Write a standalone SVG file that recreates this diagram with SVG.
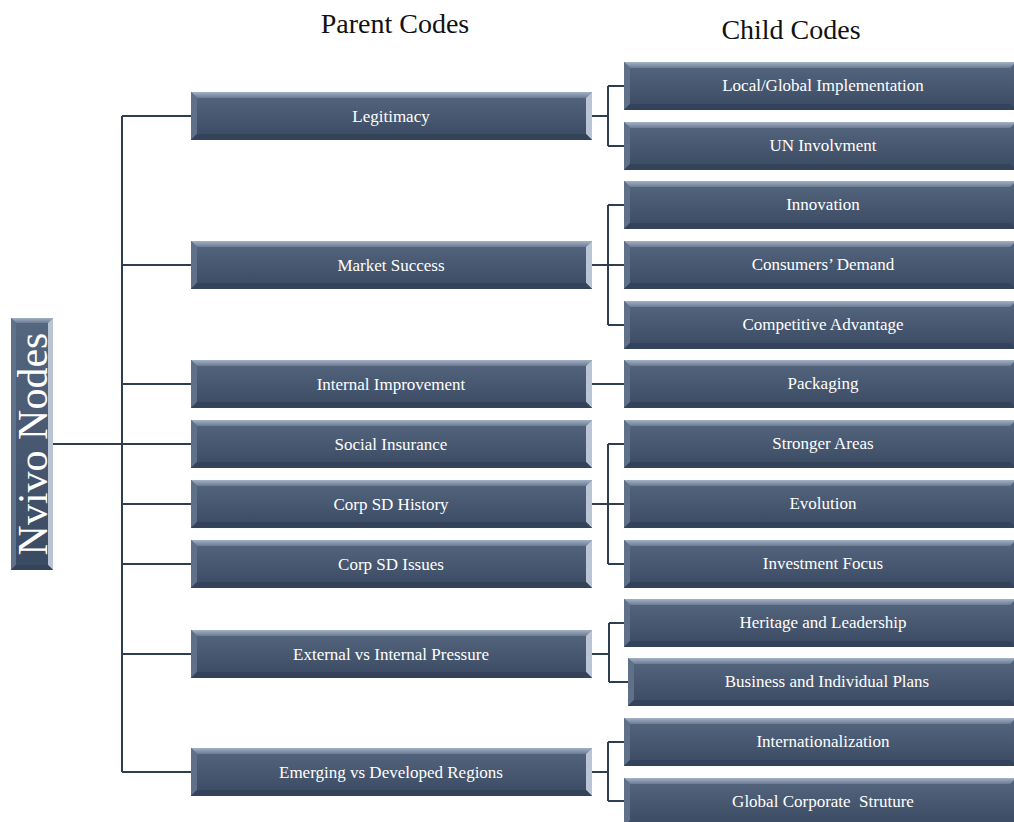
<svg xmlns="http://www.w3.org/2000/svg" width="1014" height="822" viewBox="0 0 1014 822">
<defs>
<linearGradient id="face" x1="0" y1="0" x2="0" y2="1">
<stop offset="0" stop-color="#55667f"/>
<stop offset="1" stop-color="#3a4a62"/>
</linearGradient>
<linearGradient id="top" x1="0" y1="0" x2="0" y2="1">
<stop offset="0" stop-color="#a3b1c3"/>
<stop offset="1" stop-color="#6b7b93"/>
</linearGradient>
</defs>
<style>
.face{fill:url(#face)}
.bt{fill:url(#top)}
.bl{fill:#5f7089}
.br{fill:#b9c5d4}
.bb{fill:#34425a}
.lbl{font-family:"Liberation Serif","Times New Roman",serif;font-size:17px;fill:#ffffff;text-anchor:middle}
.title{font-family:"Liberation Serif","Times New Roman",serif;font-size:28px;fill:#111111;text-anchor:middle}
.conn{stroke:#2f3d52;stroke-width:2;fill:none}
</style>
<rect width="1014" height="822" fill="#ffffff"/>
<text class="title" x="395" y="33">Parent Codes</text>
<text class="title" x="791" y="39">Child Codes</text>

<g id="connectors">
<path class="conn" d="M53,444H122M122,116V772M122,116H191M122,265H191M122,384H191M122,444H191M122,504H191M122,564H191M122,654H191M122,772H191"/>
<path class="conn" d="M592,116H608M608,86V146M608,86H624M608,146H624"/>
<path class="conn" d="M592,265H608M608,205V325M608,205H624M608,265H624M608,325H624"/>
<path class="conn" d="M592,384H624"/>
<path class="conn" d="M592,504H608M608,444V564M608,444H624M608,504H624M608,564H624"/>
<path class="conn" d="M592,654H609M609,623V682M609,623H624M609,682H628"/>
<path class="conn" d="M592,772H608M608,742V801M608,742H624M608,801H624"/>
</g>

<g id="nvivo">
<rect class="face" x="11" y="318" width="42" height="252"/>
<polygon class="bt" points="11,318 53,318 48,323 16,323"/>
<polygon class="bl" points="11,318 16,323 16,565 11,570"/>
<polygon class="br" points="53,318 53,570 48,565 48,323"/>
<polygon class="bb" points="11,570 53,570 48,565 16,565"/>
<text x="47" y="444" transform="rotate(-90 47 444)" style="font-family:'Liberation Serif','Times New Roman',serif;font-size:42px;fill:#ffffff;text-anchor:middle">Nvivo Nodes</text>
</g>

<g id="p-legitimacy">
<rect class="face" x="191" y="92" width="401" height="48"/>
<polygon class="bt" points="191,92 592,92 586,98 197,98"/>
<polygon class="bl" points="191,92 197,98 197,134 191,140"/>
<polygon class="br" points="592,92 592,140 586,134 586,98"/>
<polygon class="bb" points="191,140 592,140 586,134 197,134"/>
<text class="lbl" x="391" y="122">Legitimacy</text>
</g>
<g id="p-market">
<rect class="face" x="191" y="241" width="401" height="48"/>
<polygon class="bt" points="191,241 592,241 586,247 197,247"/>
<polygon class="bl" points="191,241 197,247 197,283 191,289"/>
<polygon class="br" points="592,241 592,289 586,283 586,247"/>
<polygon class="bb" points="191,289 592,289 586,283 197,283"/>
<text class="lbl" x="391" y="271">Market Success</text>
</g>
<g id="p-internal">
<rect class="face" x="191" y="360" width="401" height="48"/>
<polygon class="bt" points="191,360 592,360 586,366 197,366"/>
<polygon class="bl" points="191,360 197,366 197,402 191,408"/>
<polygon class="br" points="592,360 592,408 586,402 586,366"/>
<polygon class="bb" points="191,408 592,408 586,402 197,402"/>
<text class="lbl" x="391" y="390">Internal Improvement</text>
</g>
<g id="p-social">
<rect class="face" x="191" y="420" width="401" height="48"/>
<polygon class="bt" points="191,420 592,420 586,426 197,426"/>
<polygon class="bl" points="191,420 197,426 197,462 191,468"/>
<polygon class="br" points="592,420 592,468 586,462 586,426"/>
<polygon class="bb" points="191,468 592,468 586,462 197,462"/>
<text class="lbl" x="391" y="450">Social Insurance</text>
</g>
<g id="p-history">
<rect class="face" x="191" y="480" width="401" height="48"/>
<polygon class="bt" points="191,480 592,480 586,486 197,486"/>
<polygon class="bl" points="191,480 197,486 197,522 191,528"/>
<polygon class="br" points="592,480 592,528 586,522 586,486"/>
<polygon class="bb" points="191,528 592,528 586,522 197,522"/>
<text class="lbl" x="391" y="510">Corp SD History</text>
</g>
<g id="p-issues">
<rect class="face" x="191" y="540" width="401" height="48"/>
<polygon class="bt" points="191,540 592,540 586,546 197,546"/>
<polygon class="bl" points="191,540 197,546 197,582 191,588"/>
<polygon class="br" points="592,540 592,588 586,582 586,546"/>
<polygon class="bb" points="191,588 592,588 586,582 197,582"/>
<text class="lbl" x="391" y="570">Corp SD Issues</text>
</g>
<g id="p-external">
<rect class="face" x="191" y="630" width="401" height="48"/>
<polygon class="bt" points="191,630 592,630 586,636 197,636"/>
<polygon class="bl" points="191,630 197,636 197,672 191,678"/>
<polygon class="br" points="592,630 592,678 586,672 586,636"/>
<polygon class="bb" points="191,678 592,678 586,672 197,672"/>
<text class="lbl" x="391" y="660">External vs Internal Pressure</text>
</g>
<g id="p-emerging">
<rect class="face" x="191" y="748" width="401" height="48"/>
<polygon class="bt" points="191,748 592,748 586,754 197,754"/>
<polygon class="bl" points="191,748 197,754 197,790 191,796"/>
<polygon class="br" points="592,748 592,796 586,790 586,754"/>
<polygon class="bb" points="191,796 592,796 586,790 197,790"/>
<text class="lbl" x="391" y="778">Emerging vs Developed Regions</text>
</g>

<g id="c-local">
<rect class="face" x="624" y="62" width="392" height="48"/>
<polygon class="bt" points="624,62 1016,62 1010,68 630,68"/>
<polygon class="bl" points="624,62 630,68 630,104 624,110"/>
<polygon class="bb" points="624,110 1016,110 1010,104 630,104"/>
<text class="lbl" x="823" y="91">Local/Global Implementation</text>
</g>
<g id="c-un">
<rect class="face" x="624" y="122" width="392" height="48"/>
<polygon class="bt" points="624,122 1016,122 1010,128 630,128"/>
<polygon class="bl" points="624,122 630,128 630,164 624,170"/>
<polygon class="bb" points="624,170 1016,170 1010,164 630,164"/>
<text class="lbl" x="823" y="151">UN Involvment</text>
</g>
<g id="c-innovation">
<rect class="face" x="624" y="181" width="392" height="48"/>
<polygon class="bt" points="624,181 1016,181 1010,187 630,187"/>
<polygon class="bl" points="624,181 630,187 630,223 624,229"/>
<polygon class="bb" points="624,229 1016,229 1010,223 630,223"/>
<text class="lbl" x="823" y="210">Innovation</text>
</g>
<g id="c-demand">
<rect class="face" x="624" y="241" width="392" height="48"/>
<polygon class="bt" points="624,241 1016,241 1010,247 630,247"/>
<polygon class="bl" points="624,241 630,247 630,283 624,289"/>
<polygon class="bb" points="624,289 1016,289 1010,283 630,283"/>
<text class="lbl" x="823" y="270">Consumers’ Demand</text>
</g>
<g id="c-competitive">
<rect class="face" x="624" y="301" width="392" height="48"/>
<polygon class="bt" points="624,301 1016,301 1010,307 630,307"/>
<polygon class="bl" points="624,301 630,307 630,343 624,349"/>
<polygon class="bb" points="624,349 1016,349 1010,343 630,343"/>
<text class="lbl" x="823" y="330">Competitive Advantage</text>
</g>
<g id="c-packaging">
<rect class="face" x="624" y="360" width="392" height="48"/>
<polygon class="bt" points="624,360 1016,360 1010,366 630,366"/>
<polygon class="bl" points="624,360 630,366 630,402 624,408"/>
<polygon class="bb" points="624,408 1016,408 1010,402 630,402"/>
<text class="lbl" x="823" y="389">Packaging</text>
</g>
<g id="c-stronger">
<rect class="face" x="624" y="420" width="392" height="48"/>
<polygon class="bt" points="624,420 1016,420 1010,426 630,426"/>
<polygon class="bl" points="624,420 630,426 630,462 624,468"/>
<polygon class="bb" points="624,468 1016,468 1010,462 630,462"/>
<text class="lbl" x="823" y="449">Stronger Areas</text>
</g>
<g id="c-evolution">
<rect class="face" x="624" y="480" width="392" height="48"/>
<polygon class="bt" points="624,480 1016,480 1010,486 630,486"/>
<polygon class="bl" points="624,480 630,486 630,522 624,528"/>
<polygon class="bb" points="624,528 1016,528 1010,522 630,522"/>
<text class="lbl" x="823" y="509">Evolution</text>
</g>
<g id="c-investment">
<rect class="face" x="624" y="540" width="392" height="48"/>
<polygon class="bt" points="624,540 1016,540 1010,546 630,546"/>
<polygon class="bl" points="624,540 630,546 630,582 624,588"/>
<polygon class="bb" points="624,588 1016,588 1010,582 630,582"/>
<text class="lbl" x="823" y="569">Investment Focus</text>
</g>
<g id="c-heritage">
<rect class="face" x="624" y="599" width="392" height="48"/>
<polygon class="bt" points="624,599 1016,599 1010,605 630,605"/>
<polygon class="bl" points="624,599 630,605 630,641 624,647"/>
<polygon class="bb" points="624,647 1016,647 1010,641 630,641"/>
<text class="lbl" x="823" y="628">Heritage and Leadership</text>
</g>
<g id="c-business">
<rect class="face" x="628" y="658" width="388" height="48"/>
<polygon class="bt" points="628,658 1016,658 1010,664 634,664"/>
<polygon class="bl" points="628,658 634,664 634,700 628,706"/>
<polygon class="bb" points="628,706 1016,706 1010,700 634,700"/>
<text class="lbl" x="827" y="687">Business and Individual Plans</text>
</g>
<g id="c-international">
<rect class="face" x="624" y="718" width="392" height="48"/>
<polygon class="bt" points="624,718 1016,718 1010,724 630,724"/>
<polygon class="bl" points="624,718 630,724 630,760 624,766"/>
<polygon class="bb" points="624,766 1016,766 1010,760 630,760"/>
<text class="lbl" x="823" y="747">Internationalization</text>
</g>
<g id="c-global">
<rect class="face" x="624" y="778" width="392" height="48"/>
<polygon class="bt" points="624,778 1016,778 1010,784 630,784"/>
<polygon class="bl" points="624,778 630,784 630,820 624,826"/>
<text class="lbl" x="823" y="807" style="white-space:pre">Global Corporate  Struture</text>
</g>
</svg>
